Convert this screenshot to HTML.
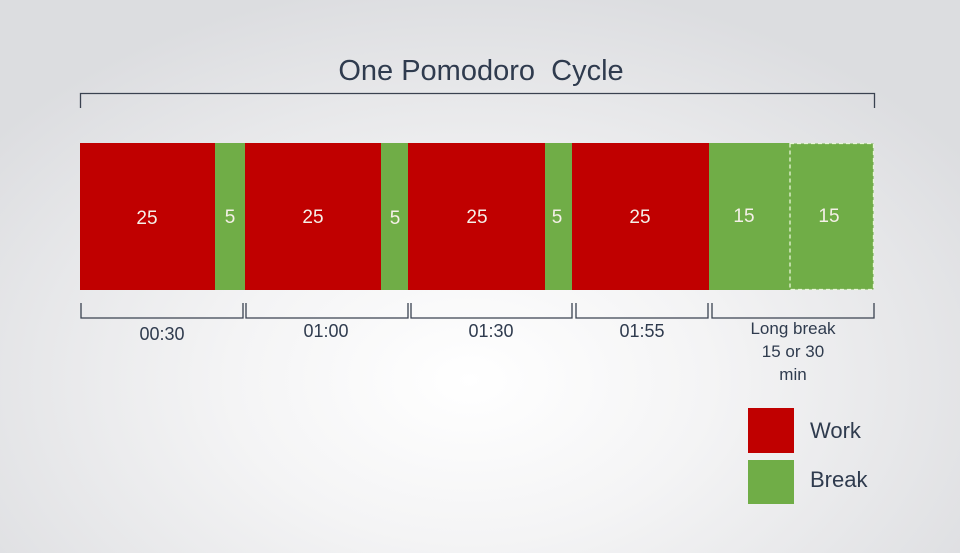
<!DOCTYPE html>
<html><head><meta charset="utf-8"><style>
html,body{margin:0;width:960px;height:553px;overflow:hidden;}
body{background:radial-gradient(ellipse 600px 400px at 470px 380px,#ffffff 0%,#f4f4f5 40%,#dcdde0 100%);font-family:"Liberation Sans",sans-serif;}
svg{display:block}
</style></head><body>
<svg width="960" height="553" xmlns="http://www.w3.org/2000/svg" font-family="Liberation Sans, sans-serif">
<text x="481" y="80" text-anchor="middle" font-size="29" fill="#2f3b4e">One Pomodoro&#160; Cycle</text>
<path d="M80.5,108 V93.5 H874.5 V108" fill="none" stroke="#3a4250" stroke-width="1.3"/>
<g>
<rect x="80" y="143" width="135" height="147" fill="#c00000"/>
<rect x="215" y="143" width="30" height="147" fill="#70ad47"/>
<rect x="245" y="143" width="136" height="147" fill="#c00000"/>
<rect x="381" y="143" width="27" height="147" fill="#70ad47"/>
<rect x="408" y="143" width="137" height="147" fill="#c00000"/>
<rect x="545" y="143" width="27" height="147" fill="#70ad47"/>
<rect x="572" y="143" width="137" height="147" fill="#c00000"/>
<rect x="709" y="143" width="81" height="147" fill="#70ad47"/>
<rect x="790" y="143.5" width="83.5" height="146" fill="#70ad47" stroke="#e8f5d8" stroke-width="1.3" stroke-dasharray="4,3"/>
</g>
<g font-size="19" fill="#f5f0e8" text-anchor="middle">
<text x="147" y="224">25</text><text x="230" y="223">5</text>
<text x="313" y="223">25</text><text x="395" y="224">5</text>
<text x="477" y="223">25</text><text x="557" y="223">5</text>
<text x="640" y="223">25</text><text x="744" y="222">15</text><text x="829" y="222">15</text>
</g>
<g fill="none" stroke="#3a4250" stroke-width="1.3">
<path d="M81,303 V318 H243 V303"/>
<path d="M246,303 V318 H408 V303"/>
<path d="M411,303 V318 H572 V303"/>
<path d="M576,303 V318 H708 V303"/>
<path d="M712,303 V318 H874 V303"/>
</g>
<g font-size="18" fill="#2f3b4e" text-anchor="middle">
<text x="162" y="340">00:30</text>
<text x="326" y="337">01:00</text>
<text x="491" y="337">01:30</text>
<text x="642" y="337">01:55</text>
<text x="793" y="334" font-size="17">Long break</text>
<text x="793" y="357" font-size="17">15 or 30</text>
<text x="793" y="380" font-size="17">min</text>
</g>
<rect x="748" y="408" width="46" height="45" fill="#c00000"/>
<rect x="748" y="460" width="46" height="44" fill="#70ad47"/>
<text x="810" y="438" font-size="22" fill="#2f3b4e">Work</text>
<text x="810" y="487" font-size="22" fill="#2f3b4e">Break</text>
</svg>
</body></html>
